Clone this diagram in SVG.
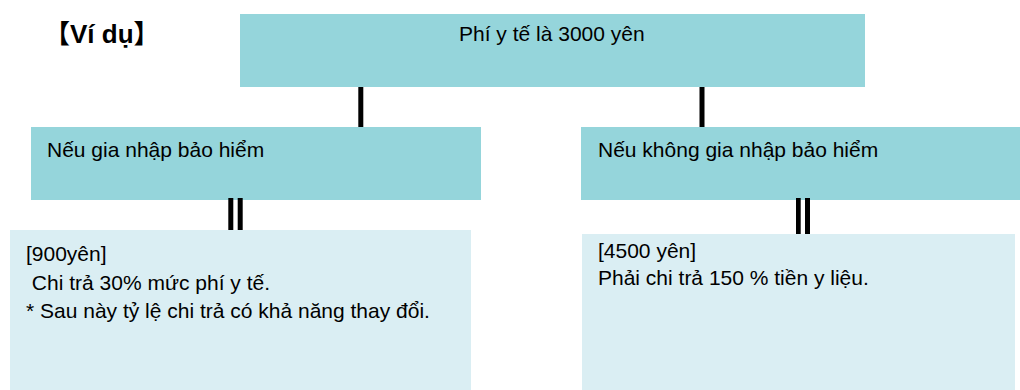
<svg xmlns="http://www.w3.org/2000/svg" width="1020" height="390" viewBox="0 0 1020 390">
<style>
.dark{fill:#95d5db}
.light{fill:#daeef3}
.t{font-family:"Liberation Sans",Arial,sans-serif;font-size:21px;fill:#000}
.title{font-family:"Liberation Sans","Noto Sans CJK JP",sans-serif;font-size:26px;font-weight:bold;fill:#000}
.bar{fill:#000}
</style>
<rect width="1020" height="390" fill="#fff"/>
<g id="title"><text class="title" x="44" y="43">【Ví dụ】</text></g>
<g id="top">
<rect class="dark" x="240" y="14" width="625" height="73"/>
<text class="t" x="459" y="41">Phí y tế là 3000 yên</text>
</g>
<g id="mid-left">
<rect class="dark" x="31" y="127" width="450" height="73"/>
<text class="t" x="47" y="157">Nếu gia nhập bảo hiểm</text>
</g>
<g id="mid-right">
<rect class="dark" x="581" y="127" width="439" height="73"/>
<text class="t" x="598" y="157">Nếu không gia nhập bảo hiểm</text>
</g>
<g id="bottom-left">
<rect class="light" x="10" y="230" width="461" height="160"/>
<text class="t" x="26" y="261">[900yên]</text>
<text class="t" x="26" y="289.5" xml:space="preserve"> Chi trả 30% mức phí y tế.</text>
<text class="t" x="26" y="318">* Sau này tỷ lệ chi trả có khả năng thay đổi.</text>
</g>
<g id="bottom-right">
<rect class="light" x="582" y="234" width="433" height="156"/>
<text class="t" x="598" y="258">[4500 yên]</text>
<text class="t" x="598" y="285">Phải chi trả 150 % tiền y liệu.</text>
</g>
<g id="connectors">
<rect class="bar" x="358.3" y="87" width="5" height="40"/>
<rect class="bar" x="699.5" y="87" width="5" height="40"/>
<rect class="bar" x="228.3" y="198" width="5" height="32"/>
<rect class="bar" x="237.7" y="198" width="5" height="32"/>
<rect class="bar" x="796" y="198" width="4.7" height="36"/>
<rect class="bar" x="805" y="198" width="5" height="36"/>
</g>
</svg>
